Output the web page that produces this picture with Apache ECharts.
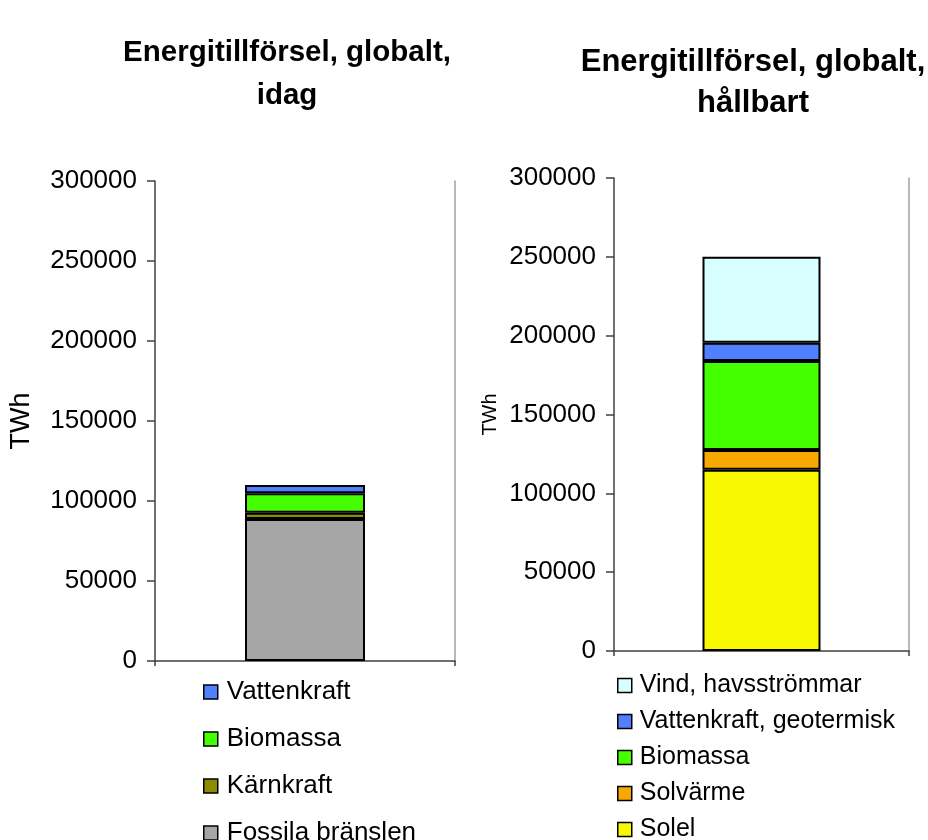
<!DOCTYPE html>
<html>
<head>
<meta charset="utf-8">
<title>Energitillförsel, globalt</title>
<script src="https://cdn.jsdelivr.net/npm/echarts@6/dist/echarts.min.js"></script>
<style>
  html, body { margin: 0; padding: 0; background: #ffffff; }
  #chart { width: 928px; height: 840px; }
</style>
</head>
<body>
<div id="chart"></div>
<script>
// Global energy supply (TWh): today vs. a sustainable mix
const category = [''];

// Today, stacked bottom to top
const todayNames = ['Fossila bränslen', 'Kärnkraft', 'Biomassa', 'Vattenkraft'];
const todayValues = [88800, 3800, 12300, 5100];
const todayColors = ['#a6a6a6', '#8c8c00', '#44ff00', '#5080ff'];

// Sustainable, stacked bottom to top
const sustNames = ['Solel', 'Solvärme', 'Biomassa', 'Vattenkraft, geotermisk', 'Vind, havsströmmar'];
const sustValues = [115000, 12500, 56500, 11500, 54500];
const sustColors = ['#f8f800', '#f8a800', '#44ff00', '#5080ff', '#d8ffff'];

const yTicks = { min: 0, max: 300000, interval: 50000 };
const unitName = 'TWh';

const FONT = '"Liberation Sans", Arial, Helvetica, sans-serif';

function valueAxis(gridIndex, nameSize, nameGap) {
  return {
    type: 'value', gridIndex: gridIndex,
    min: yTicks.min, max: yTicks.max, interval: yTicks.interval,
    name: unitName, nameLocation: 'middle', nameRotate: 90, nameGap: nameGap,
    nameTextStyle: { fontFamily: FONT, fontSize: nameSize, color: '#000' },
    axisLine: { show: true, lineStyle: { color: '#404040', width: 1.5 } },
    axisTick: { show: true, length: 8, lineStyle: { color: '#404040', width: 1.5 } },
    axisLabel: { margin: 18, fontFamily: FONT, fontSize: 26, color: '#000',
                 formatter: v => String(v) },
    splitLine: { show: false }
  };
}
function frameAxis(gridIndex) {
  return {
    type: 'value', gridIndex: gridIndex, position: 'right',
    min: yTicks.min, max: yTicks.max, interval: yTicks.interval,
    axisLine: { show: true, lineStyle: { color: '#a0a0a0', width: 1.5 } },
    axisTick: { show: false }, axisLabel: { show: false }, splitLine: { show: false }
  };
}
function catAxis(gridIndex) {
  return {
    type: 'category', gridIndex: gridIndex, data: category,
    axisLine: { show: true, lineStyle: { color: '#404040', width: 1.5 } },
    axisTick: { show: true, length: 5, lineStyle: { color: '#404040', width: 1.5 } },
    axisLabel: { show: false }
  };
}
function barSeries(names, values, colors, axisIdx, stack) {
  return names.map((n, i) => ({
    name: n, type: 'bar', stack: stack,
    xAxisIndex: axisIdx, yAxisIndex: axisIdx * 2,
    barWidth: '40%',
    data: [values[i]],
    itemStyle: { color: colors[i], borderColor: '#000', borderWidth: 2 },
    emphasis: { disabled: true }
  }));
}

const chart = echarts.init(document.getElementById('chart'), null, { renderer: 'canvas' });
chart.setOption({
  animation: false,
  backgroundColor: '#ffffff',
  title: [
    { text: 'Energitillförsel, globalt,\nidag', left: 282, top: 26, textAlign: 'center',
      textStyle: { fontFamily: FONT, fontSize: 29.5, fontWeight: 'bold', color: '#000', lineHeight: 43 } },
    { text: 'Energitillförsel, globalt,\nhållbart', left: 748, top: 37, textAlign: 'center',
      textStyle: { fontFamily: FONT, fontSize: 31, fontWeight: 'bold', color: '#000', lineHeight: 41 } }
  ],
  grid: [
    { left: 155, right: 473, top: 181, bottom: 179 },
    { left: 614, right: 19, top: 178, bottom: 189 }
  ],
  xAxis: [catAxis(0), catAxis(1)],
  yAxis: [valueAxis(0, 27, 120), frameAxis(0), valueAxis(1, 20, 114), frameAxis(1)],
  legend: [
    { data: todayNames.slice().reverse(), orient: 'vertical', left: 203, top: 679,
      height: 200, padding: 0,
      itemWidth: 14, itemHeight: 14, itemGap: 21, selectedMode: false, icon: 'rect',
      itemStyle: { borderColor: '#000', borderWidth: 1.5 },
      textStyle: { fontFamily: FONT, fontSize: 26, color: '#000', padding: [0, 0, 0, 4] } },
    { data: sustNames.slice().reverse(), orient: 'vertical', left: 617, top: 673,
      height: 200, padding: 0,
      itemWidth: 14, itemHeight: 14, itemGap: 11, selectedMode: false, icon: 'rect',
      itemStyle: { borderColor: '#000', borderWidth: 1.5 },
      textStyle: { fontFamily: FONT, fontSize: 25, color: '#000', padding: [0, 0, 0, 3] } }
  ],
  series: barSeries(todayNames, todayValues, todayColors, 0, 'today')
    .concat(barSeries(sustNames, sustValues, sustColors, 1, 'sust'))
});
</script>
</body>
</html>
